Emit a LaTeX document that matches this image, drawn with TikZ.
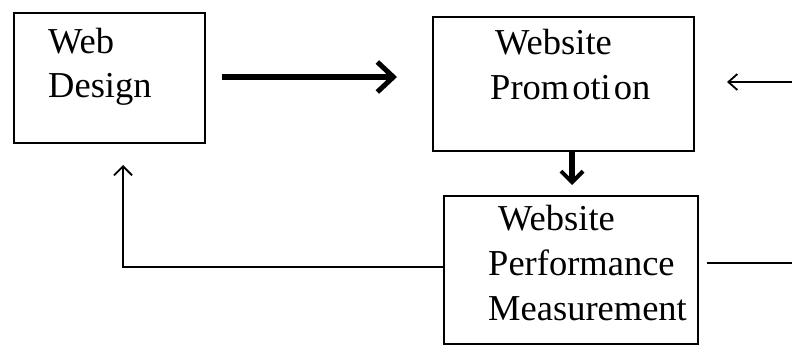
\documentclass[tikz,border=0pt]{standalone}
\usepackage{fontspec}
\setmainfont{Liberation Serif}
\usetikzlibrary{arrows.meta}
\begin{document}
\begin{tikzpicture}[x=1pt,y=-1pt,
  box/.style={draw,line width=1.8pt,minimum width=#1,inner sep=0pt,anchor=north west},
  lbl/.style={anchor=base west,inner sep=0pt,font=\fontsize{36.5}{40}\selectfont},
  thinline/.style={line width=1.8pt},
  boldline/.style={line width=6pt}]
\useasboundingbox (0,0) rectangle (792,345);
\fill[white] (0,0) rectangle (792,345);
% boxes
\node[box=191pt,minimum height=130pt] (design) at (13,12) {};
\node[box=261pt,minimum height=134pt] (promo) at (432,16) {};
\node[box=254pt,minimum height=148pt] (meas) at (443,195) {};
% box texts
\node[lbl] (t1) at (48,53) {Web};
\node[lbl] (t2) at (48,97) {Design};
\node[lbl] (t3) at (495,55) {Website};
\node[lbl] (t4) at (490,99) {Prom\hspace{3pt}oti\hspace{3pt}on};
\node[lbl] (t5) at (498,230) {Website};
\node[lbl] (t6) at (488,275) {Performance};
\node[lbl] (t7) at (488,320) {Measurement};
% free ends
\coordinate (inR) at (792,82);
\coordinate (inTip) at (727,82);
\coordinate (fbTip) at (123,165);
\coordinate (outR) at (792,263);
% connectors
\draw[boldline,-{Straight Barb[length=16pt,width=30pt,line width=5pt]},shorten <=16pt,shorten >=35pt]
  (design.east |- 0,77) -- (promo.west |- 0,77);
\draw[line width=5.5pt,-{Straight Barb[length=11pt,width=22pt,line width=4pt]},shorten >=10pt]
  (promo.south -| 572,0) -- (meas.north -| 572,0);
\draw[thinline,-{Straight Barb[length=9pt,width=16pt,line width=1.8pt]}] (inR) -- (inTip);
\draw[thinline,-{Straight Barb[length=9pt,width=18pt,line width=1.8pt]}] (meas.west |- 0,267) -| (fbTip);
\draw[thinline] (meas.east |- outR) ++(8,0) -- (outR);
\end{tikzpicture}
\end{document}
